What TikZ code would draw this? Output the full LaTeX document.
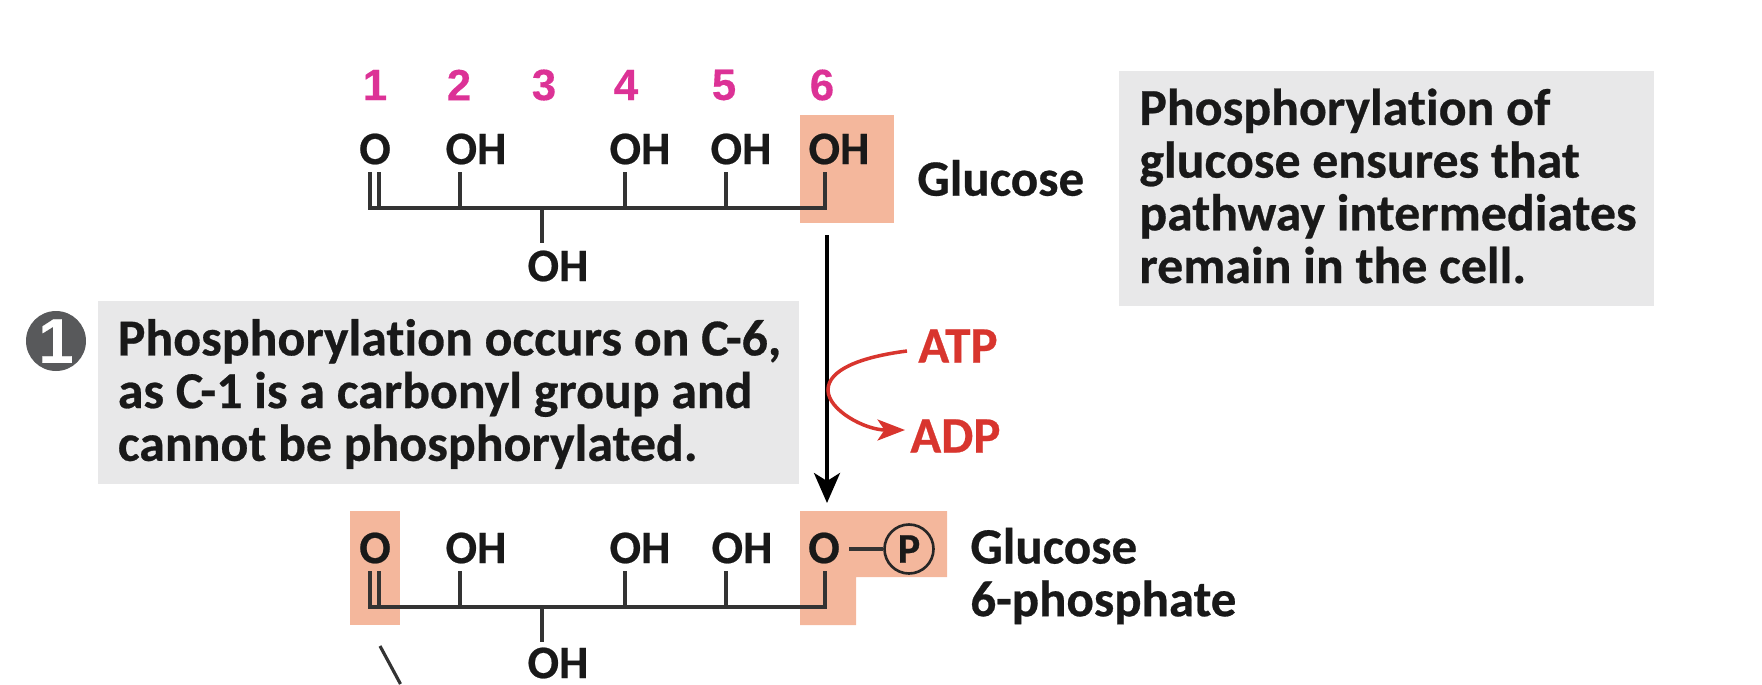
\documentclass[tikz,border=0pt]{standalone}
\usepackage{fontspec}
\setmainfont[Ligatures=NoCommon, BoldFeatures={FakeBold=.5}]{Carlito}
\newfontfamily\digitfont[BoldFeatures={FakeBold=.3}]{Liberation Sans}
\usetikzlibrary{arrows.meta}
\definecolor{peach}{HTML}{F4B79C}
\definecolor{notegray}{HTML}{E8E8E9}
\definecolor{badgegray}{HTML}{58595B}
\definecolor{carbonpink}{HTML}{DC3296}
\definecolor{cofactorred}{HTML}{D8352E}
\begin{document}
\begin{tikzpicture}[%
  x=.02cm, y=-.02cm,
  group/.style={font=\fontsize{26.5}{30}\selectfont\bfseries, text=black!90, inner sep=0pt},
  label/.style={font=\fontsize{29}{30}\selectfont\bfseries, text=black!90, inner sep=0pt},
  carbon/.style={font=\fontsize{25}{30}\digitfont\bfseries, inner sep=0pt, text=carbonpink},
  cofactor/.style={label, text=cofactorred},
  notetext/.style={font=\fontsize{29.5}{30}\selectfont\bfseries, text=black!90, inner sep=0pt, anchor=west, align=left},
  bond/.style={line width=1.8pt, black!80},
  highlight/.style={fill=peach, draw=none}]
\useasboundingbox (0,0) rectangle (1762,684);
% highlights
\fill[highlight] (800,115) rectangle (894,223);
\fill[highlight] (350,511) rectangle (400,625);
\fill[highlight] (800,511) -- (947,511) -- (947,577) -- (856,577) -- (856,625) -- (800,625) -- cycle;
% notes
\fill[notegray] (97.5,301) rectangle (799,484);
\fill[notegray] (1119,71) rectangle (1654,306);
\node[notetext] (stepnote) at (117.5,394)
  {Phosphorylation occurs on C-6,\\as C-1 is a carbonyl group and\\cannot be phosphorylated.};
\node[notetext] (sidenote) at (1139,186)
  {Phosphorylation of\\glucose ensures that\\pathway intermediates\\remain in the cell.};
\node[circle, fill=badgegray, minimum size=1.2cm, inner sep=0pt, text=white,
  font=\fontsize{36}{36}\digitfont\bfseries] (badge) at (56,341) {1};
% carbon numbers
\foreach \n/\x in {1/375,2/459,3/544,4/626,5/724,6/822}
  \node[carbon] (num\n) at (\x,85) {\n};
% glucose
\node[group] (oa) at (375,149) {O};
\foreach \n/\x/\b in {2/476/460,4/640/625,5/741/726,6/839/825} {
  \node[group] (oa\n) at (\x,149) {OH};
  \coordinate (ta\n) at (\b,172);
  \coordinate (ba\n) at (\b,208);
  \draw[bond] (ta\n) -- (ba\n);
}
\coordinate (ba1) at (370,208);
\coordinate (ba1b) at (379,208);
\coordinate (ta1) at (370,172);
\coordinate (ta1b) at (379,172);
\coordinate (ba3) at (542,208);
\coordinate (da3) at (542,243);
\node[group] (oa3) at (558,266) {OH};
\draw[bond] (ta1) -- (ba1);
\draw[bond] (ta1b) -- (ba1b);
\draw[bond] (ba3) -- (da3);
\draw[bond, line cap=rect] (ba1) -- (ba6);
\node[label, anchor=west] (glucose) at (917,178) {Glucose};
% glucose 6-phosphate
\node[group] (ob) at (375,548) {O};
\foreach \n/\x/\b in {2/476/460,4/640/625,5/742/726} {
  \node[group] (ob\n) at (\x,548) {OH};
  \coordinate (tb\n) at (\b,571);
  \coordinate (bb\n) at (\b,607);
  \draw[bond] (tb\n) -- (bb\n);
}
\node[group] (ob6) at (824,548) {O};
\coordinate (tb6) at (825,571);
\coordinate (bb6) at (825,607);
\draw[bond] (tb6) -- (bb6);
\coordinate (bb1) at (370,607);
\coordinate (bb1b) at (379,607);
\coordinate (tb1) at (370,571);
\coordinate (tb1b) at (379,571);
\coordinate (bb3) at (542,607);
\coordinate (db3) at (542,642);
\node[group] (ob3) at (558,663) {OH};
\draw[bond] (tb1) -- (bb1);
\draw[bond] (tb1b) -- (bb1b);
\draw[bond] (bb3) -- (db3);
\draw[bond, line cap=rect] (bb1) -- (bb6);
\node[circle, draw=black!85, line width=1.5pt, minimum size=.98cm, inner sep=0pt,
  font=\fontsize{24}{24}\selectfont\bfseries, text=black!90] (phos) at (909,549) {P};
\draw[bond] (ob6) ++(25,1) coordinate (pstart) (pstart) -- (phos);
\node[label, anchor=west, align=left] (g6p) at (970,576) {Glucose\\6-phosphate};
% next ring bond, cut off by the page
\coordinate (nexttop) at (380,646);
\coordinate (nextend) at (400.5,684);
\draw[bond] (nexttop) -- (nextend);
% reaction arrow
\coordinate (arrowtop) at (827,235);
\coordinate (arrowend) at (827,503);
\draw[line width=2.1pt, -{Stealth[length=.6cm, width=.52cm, inset=.16cm]}] (arrowtop) -- (arrowend);
\node[cofactor, anchor=west] (atp) at (918,346) {ATP};
\node[cofactor, anchor=west] (adp) at (910,436) {ADP};
\draw[cofactorred, line width=2pt, -{Stealth[length=.55cm, width=.42cm, inset=.14cm]}]
  (atp.west) ++(-11,5) .. controls (860,357) and (828,370) .. (828,390)
  .. controls (828,410) and (865,430) .. (905,430);
\end{tikzpicture}
\end{document}
